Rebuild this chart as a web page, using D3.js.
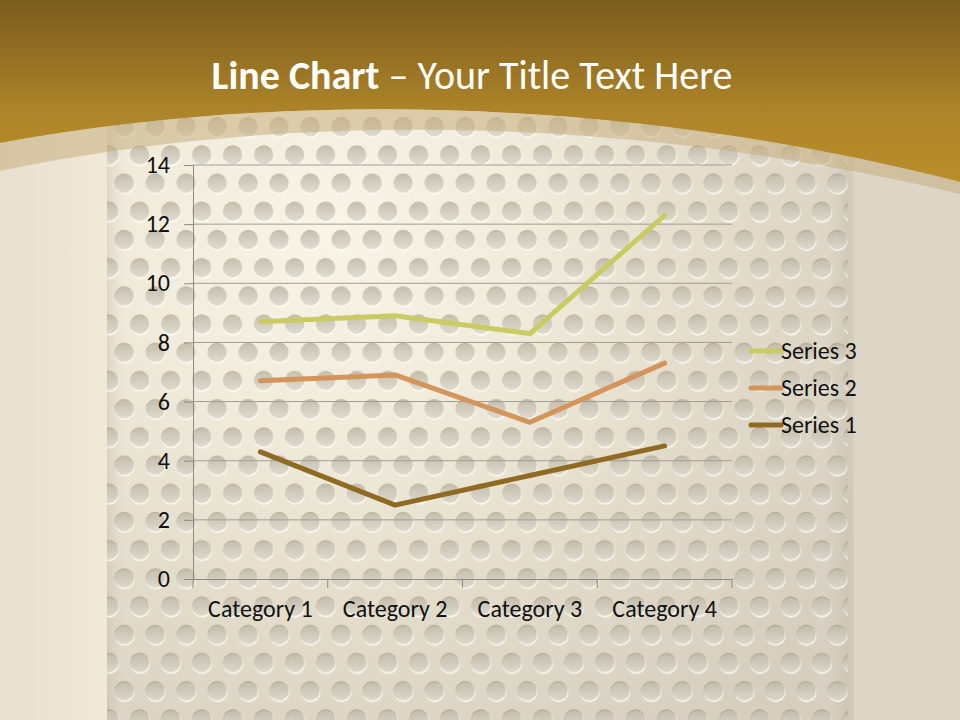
<!DOCTYPE html>
<html><head><meta charset="utf-8">
<script src="https://cdn.jsdelivr.net/npm/d3@7/dist/d3.min.js"></script>
<style>html,body{margin:0;padding:0;background:#fff}svg{display:block}</style>
</head><body>
<script>
const categories = ["Category 1", "Category 2", "Category 3", "Category 4"];
const seriesNames = ["Series 1", "Series 2", "Series 3"];
const series1 = [4.3, 2.5, 3.5, 4.5];
const series2 = [2.4, 4.4, 1.8, 2.8];
const series3 = [2, 2, 3, 5];
const yTicks = [0, 2, 4, 6, 8, 10, 12, 14];
const colors = ["#8f6a22", "#d3955c", "#c9cc62"];

const W = 960, H = 720;
const font = "Carlito, Calibri, Lato, 'Open Sans', sans-serif";
const svg = d3.select("body").append("svg").attr("width", W).attr("height", H);
const defs = svg.append("defs");

// background
const bgL = defs.append("linearGradient").attr("id","bgL").attr("x1",0).attr("x2",1).attr("y1",0).attr("y2",0);
bgL.append("stop").attr("offset",0).attr("stop-color","#e7e0ce");
bgL.append("stop").attr("offset",0.105).attr("stop-color","#f0e9d8");
bgL.append("stop").attr("offset",0.89).attr("stop-color","#ddd6c7");
bgL.append("stop").attr("offset",1).attr("stop-color","#ddd6c7");
svg.append("rect").attr("width",W).attr("height",H).attr("fill","url(#bgL)");

const rg = defs.append("radialGradient").attr("id","panelG").attr("gradientUnits","userSpaceOnUse")
  .attr("cx",330).attr("cy",230).attr("r",620);
rg.append("stop").attr("offset",0).attr("stop-color","#f8f4e7");
rg.append("stop").attr("offset",0.3).attr("stop-color","#f1ecdc");
rg.append("stop").attr("offset",0.65).attr("stop-color","#e2dbca");
rg.append("stop").attr("offset",1).attr("stop-color","#d6cfc0");
svg.append("rect").attr("x",107).attr("y",100).attr("width",747).attr("height",H-100).attr("fill","url(#panelG)");

const eg = defs.append("linearGradient").attr("id","edgeG").attr("x1",0).attr("x2",1);
eg.append("stop").attr("offset",0).attr("stop-color","#b9ae96").attr("stop-opacity",0.3);
eg.append("stop").attr("offset",0.035).attr("stop-color","#fff").attr("stop-opacity",0.0);
eg.append("stop").attr("offset",0.94).attr("stop-color","#fff").attr("stop-opacity",0.0);
eg.append("stop").attr("offset",0.99).attr("stop-color","#b3a993").attr("stop-opacity",0.25);
eg.append("stop").attr("offset",1).attr("stop-color","#b3a993").attr("stop-opacity",0.1);
svg.append("rect").attr("x",107).attr("y",100).attr("width",747).attr("height",H-100).attr("fill","url(#edgeG)");

// perforation pattern
const hg = defs.append("linearGradient").attr("id","holeG").attr("x1",0).attr("x2",0).attr("y1",0).attr("y2",1);
hg.append("stop").attr("offset",0).attr("stop-color","#8e836c").attr("stop-opacity",0.5);
hg.append("stop").attr("offset",1).attr("stop-color","#8e836c").attr("stop-opacity",0.26);
const pat = defs.append("pattern").attr("id","holes").attr("patternUnits","userSpaceOnUse")
  .attr("width",31).attr("height",56.4).attr("patternTransform","translate(155.2,141)");
[[15.5,14],[0,42.2],[31,42.2]].forEach(([cx,cy])=>{
  pat.append("circle").attr("cx",cx+0.5).attr("cy",cy+1.5).attr("r",9.9).attr("fill","rgba(255,255,248,0.75)");
  pat.append("circle").attr("cx",cx).attr("cy",cy).attr("r",9.7).attr("fill","url(#holeG)");
});
svg.append("rect").attr("x",107).attr("y",100).attr("width",741).attr("height",H-100).attr("fill","url(#holes)");

// gold header
const gg = defs.append("linearGradient").attr("id","goldG").attr("gradientUnits","userSpaceOnUse")
  .attr("x1",0).attr("x2",0).attr("y1",0).attr("y2",185);
gg.append("stop").attr("offset",0).attr("stop-color","#7a5c1e");
gg.append("stop").attr("offset",0.6).attr("stop-color","#ad8429");
gg.append("stop").attr("offset",1).attr("stop-color","#b98f2b");
svg.append("path").attr("d","M0,0 H960 V182 C640,100 300,88 0,143 Z").attr("fill","url(#goldG)");
svg.append("path").attr("d","M0,143 C300,88 640,100 960,182 V194 C640,118 300,108 0,171 Z")
  .attr("fill","#c7ae7e").attr("opacity",0.55);

// title
const title = svg.append("text").attr("x",472).attr("y",89).attr("text-anchor","middle")
  .attr("font-family",font).attr("font-size",40).attr("fill","#ffffff");
title.append("tspan").attr("font-weight","bold").text("Line Chart");
title.append("tspan").text(" \u2013 Your Title Text Here");

// chart
const x0 = 193, x1 = 732, yTop = 165, yBot = 579;
const x = d3.scaleBand().domain(categories).range([x0, x1]);
const y = d3.scaleLinear().domain([0, 14]).range([yBot, yTop]);

const g = svg.append("g");
g.selectAll("line.grid").data(yTicks.filter(d=>d>0)).enter().append("line")
  .attr("x1",x0).attr("x2",x1).attr("y1",d=>y(d)).attr("y2",d=>y(d))
  .attr("stroke","#a09d95").attr("stroke-width",1);

const yAxis = g.append("g").attr("transform",`translate(${x0},0)`)
  .call(d3.axisLeft(y).tickValues(yTicks).tickSize(9).tickPadding(14).tickSizeOuter(0));
const xAxis = g.append("g").attr("transform",`translate(0,${yBot})`)
  .call(d3.axisBottom(x).tickSize(0).tickPadding(21).tickSizeOuter(0));
g.selectAll("line.xt").data(d3.range(categories.length+1)).enter().append("line")
  .attr("x1",i=>x0+i*x.bandwidth()).attr("x2",i=>x0+i*x.bandwidth())
  .attr("y1",yBot).attr("y2",yBot+9).attr("stroke","#8c8a84");
[yAxis,xAxis].forEach(a=>{
  a.selectAll("path.domain").attr("stroke","#8c8a84");
  a.selectAll(".tick line").attr("stroke","#8c8a84");
  a.selectAll("text").attr("font-family",font).attr("font-size",24).attr("fill","#111");
});

// stacked lines
const rows = categories.map((c,i)=>({cat:c, "Series 1":series1[i], "Series 2":series2[i], "Series 3":series3[i]}));
const stacked = d3.stack().keys(seriesNames)(rows);
const line = d3.line().x(d=>x(d.data.cat)+x.bandwidth()/2).y(d=>y(d[1]));
stacked.forEach((s,i)=>{
  g.append("path").datum(s).attr("d",line).attr("fill","none")
    .attr("stroke",colors[i]).attr("stroke-width",5).attr("stroke-linecap","round").attr("stroke-linejoin","round");
});

// legend
const legendOrder = [2,1,0];
const lg = svg.append("g");
legendOrder.forEach((si,k)=>{
  const ly = 351 + k*37;
  lg.append("line").attr("x1",751).attr("x2",781).attr("y1",ly).attr("y2",ly)
    .attr("stroke",colors[si]).attr("stroke-width",5).attr("stroke-linecap","round");
  lg.append("text").attr("x",781).attr("y",ly+8).attr("font-family",font).attr("font-size",24)
    .attr("fill","#111").text(seriesNames[si]);
});
</script>
</body></html>
